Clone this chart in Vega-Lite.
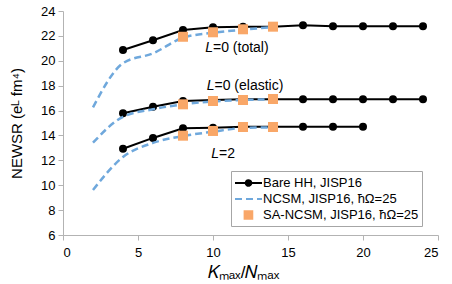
{
  "$schema": "https://vega.github.io/schema/vega-lite/v6.json",
  "width": 375,
  "height": 224,
  "autosize": "none",
  "padding": {"left": 63, "top": 11, "right": 14, "bottom": 49},
  "background": "white",
  "config": {
    "view": {"stroke": null},
    "font": "Liberation Sans",
    "axis": {"grid": false, "domainColor": "#b3b3b3", "tickColor": "#b3b3b3", "tickSize": 5, "labelFont": "Liberation Sans", "labelFontSize": 13, "labelColor": "black", "titleFont": "Liberation Sans", "titleColor": "black", "titleFontWeight": "normal"}
  },
  "datasets": {
    "pts": [
      {"series": "Bare HH, JISP16", "L": "total", "x": 4, "y": 20.87},
      {"series": "Bare HH, JISP16", "L": "total", "x": 6, "y": 21.65},
      {"series": "Bare HH, JISP16", "L": "total", "x": 8, "y": 22.47},
      {"series": "Bare HH, JISP16", "L": "total", "x": 10, "y": 22.69},
      {"series": "Bare HH, JISP16", "L": "total", "x": 12, "y": 22.74},
      {"series": "Bare HH, JISP16", "L": "total", "x": 14, "y": 22.74},
      {"series": "Bare HH, JISP16", "L": "total", "x": 16, "y": 22.85},
      {"series": "Bare HH, JISP16", "L": "total", "x": 18, "y": 22.77},
      {"series": "Bare HH, JISP16", "L": "total", "x": 20, "y": 22.77},
      {"series": "Bare HH, JISP16", "L": "total", "x": 22, "y": 22.77},
      {"series": "Bare HH, JISP16", "L": "total", "x": 24, "y": 22.77},
      {"series": "Bare HH, JISP16", "L": "elastic", "x": 4, "y": 15.78},
      {"series": "Bare HH, JISP16", "L": "elastic", "x": 6, "y": 16.31},
      {"series": "Bare HH, JISP16", "L": "elastic", "x": 8, "y": 16.77},
      {"series": "Bare HH, JISP16", "L": "elastic", "x": 10, "y": 16.85},
      {"series": "Bare HH, JISP16", "L": "elastic", "x": 12, "y": 16.9},
      {"series": "Bare HH, JISP16", "L": "elastic", "x": 14, "y": 16.9},
      {"series": "Bare HH, JISP16", "L": "elastic", "x": 16, "y": 16.9},
      {"series": "Bare HH, JISP16", "L": "elastic", "x": 18, "y": 16.9},
      {"series": "Bare HH, JISP16", "L": "elastic", "x": 20, "y": 16.9},
      {"series": "Bare HH, JISP16", "L": "elastic", "x": 22, "y": 16.9},
      {"series": "Bare HH, JISP16", "L": "elastic", "x": 24, "y": 16.9},
      {"series": "Bare HH, JISP16", "L": "L2", "x": 4, "y": 12.93},
      {"series": "Bare HH, JISP16", "L": "L2", "x": 6, "y": 13.8},
      {"series": "Bare HH, JISP16", "L": "L2", "x": 8, "y": 14.57},
      {"series": "Bare HH, JISP16", "L": "L2", "x": 10, "y": 14.62},
      {"series": "Bare HH, JISP16", "L": "L2", "x": 12, "y": 14.7},
      {"series": "Bare HH, JISP16", "L": "L2", "x": 14, "y": 14.7},
      {"series": "Bare HH, JISP16", "L": "L2", "x": 16, "y": 14.7},
      {"series": "Bare HH, JISP16", "L": "L2", "x": 18, "y": 14.7},
      {"series": "Bare HH, JISP16", "L": "L2", "x": 20, "y": 14.7},
      {"series": "NCSM, JISP16, ħΩ=25", "L": "total", "x": 2, "y": 16.26},
      {"series": "NCSM, JISP16, ħΩ=25", "L": "total", "x": 4, "y": 19.8},
      {"series": "NCSM, JISP16, ħΩ=25", "L": "total", "x": 6, "y": 20.6},
      {"series": "NCSM, JISP16, ħΩ=25", "L": "total", "x": 8, "y": 21.85},
      {"series": "NCSM, JISP16, ħΩ=25", "L": "total", "x": 10, "y": 22.25},
      {"series": "NCSM, JISP16, ħΩ=25", "L": "total", "x": 12, "y": 22.5},
      {"series": "NCSM, JISP16, ħΩ=25", "L": "total", "x": 14, "y": 22.7},
      {"series": "NCSM, JISP16, ħΩ=25", "L": "elastic", "x": 2, "y": 13.42},
      {"series": "NCSM, JISP16, ħΩ=25", "L": "elastic", "x": 4, "y": 15.5},
      {"series": "NCSM, JISP16, ħΩ=25", "L": "elastic", "x": 6, "y": 16.1},
      {"series": "NCSM, JISP16, ħΩ=25", "L": "elastic", "x": 8, "y": 16.5},
      {"series": "NCSM, JISP16, ħΩ=25", "L": "elastic", "x": 10, "y": 16.73},
      {"series": "NCSM, JISP16, ħΩ=25", "L": "elastic", "x": 12, "y": 16.85},
      {"series": "NCSM, JISP16, ħΩ=25", "L": "elastic", "x": 14, "y": 16.9},
      {"series": "NCSM, JISP16, ħΩ=25", "L": "L2", "x": 2, "y": 9.62},
      {"series": "NCSM, JISP16, ħΩ=25", "L": "L2", "x": 4, "y": 12.27},
      {"series": "NCSM, JISP16, ħΩ=25", "L": "L2", "x": 6, "y": 13.4},
      {"series": "NCSM, JISP16, ħΩ=25", "L": "L2", "x": 8, "y": 13.95},
      {"series": "NCSM, JISP16, ħΩ=25", "L": "L2", "x": 10, "y": 14.3},
      {"series": "NCSM, JISP16, ħΩ=25", "L": "L2", "x": 12, "y": 14.6},
      {"series": "NCSM, JISP16, ħΩ=25", "L": "L2", "x": 14, "y": 14.65},
      {"series": "SA-NCSM, JISP16, ħΩ=25", "L": "total", "x": 8, "y": 21.93},
      {"series": "SA-NCSM, JISP16, ħΩ=25", "L": "total", "x": 10, "y": 22.29},
      {"series": "SA-NCSM, JISP16, ħΩ=25", "L": "total", "x": 12, "y": 22.53},
      {"series": "SA-NCSM, JISP16, ħΩ=25", "L": "total", "x": 14, "y": 22.74},
      {"series": "SA-NCSM, JISP16, ħΩ=25", "L": "elastic", "x": 8, "y": 16.5},
      {"series": "SA-NCSM, JISP16, ħΩ=25", "L": "elastic", "x": 10, "y": 16.77},
      {"series": "SA-NCSM, JISP16, ħΩ=25", "L": "elastic", "x": 12, "y": 16.85},
      {"series": "SA-NCSM, JISP16, ħΩ=25", "L": "elastic", "x": 14, "y": 16.93},
      {"series": "SA-NCSM, JISP16, ħΩ=25", "L": "L2", "x": 8, "y": 13.98},
      {"series": "SA-NCSM, JISP16, ħΩ=25", "L": "L2", "x": 10, "y": 14.36},
      {"series": "SA-NCSM, JISP16, ħΩ=25", "L": "L2", "x": 12, "y": 14.68},
      {"series": "SA-NCSM, JISP16, ħΩ=25", "L": "L2", "x": 14, "y": 14.68}
    ],
    "labels": [
      {"x": 10.0, "y": 20.7, "rest": "=0 (total)"},
      {"x": 10.1, "y": 17.65, "rest": "=0 (elastic)"},
      {"x": 10.4, "y": 12.19, "rest": "=2"}
    ]
  },
  "data": {"name": "pts"},
  "encoding": {
    "x": {"field": "x", "type": "quantitative", "scale": {"domain": [0, 25], "nice": false}, "axis": {"values": [0, 5, 10, 15, 20, 25], "labelPadding": 6, "title": "𝐾ₘₐₓ/𝑁ₘₐₓ", "titleFontSize": 17, "titlePadding": 5, "titleX": 180, "titleAlign": "center"}},
    "y": {"field": "y", "type": "quantitative", "scale": {"domain": [6, 24], "nice": false, "zero": false}, "axis": {"values": [6, 8, 10, 12, 14, 16, 18, 20, 22, 24], "labelPadding": 3, "title": "NEWSR (eᴸ fm⁴)", "titleFontSize": 15, "titlePadding": 16}}
  },
  "layer": [
    {
      "transform": [{"filter": "datum.series == 'Bare HH, JISP16'"}],
      "mark": {"type": "line", "strokeWidth": 2},
      "encoding": {
        "detail": {"field": "L"},
        "color": {"field": "series", "type": "nominal", "scale": {"domain": ["Bare HH, JISP16", "NCSM, JISP16, ħΩ=25", "SA-NCSM, JISP16, ħΩ=25"], "range": ["#000000", "#6fa8dc", "#f9a768"]},
          "legend": {
            "orient": "none", "legendX": 168, "legendY": 160, "title": null,
            "strokeColor": "#a6a6a6", "fillColor": "white", "padding": 3,
            "labelFont": "Liberation Sans", "labelFontSize": 13, "labelColor": "black", "labelOffset": 11,
            "symbolSize": 256, "symbolStrokeWidth": 1.5, "rowPadding": 0,
            "encode": {
              "symbols": {"update": {
                "shape": {"signal": "datum.value == 'Bare HH, JISP16' ? 'M-1,0L2.375,0M0.34,0A0.35,0.35 0 1,0 1.04,0A0.35,0.35 0 1,0 0.34,0' : (datum.value == 'NCSM, JISP16, ħΩ=25' ? 'M-1,0L2.375,0' : 'M0.2,-0.48L1.16,-0.48L1.16,0.48L0.2,0.48Z')"},
                "fill": {"signal": "datum.value == 'NCSM, JISP16, ħΩ=25' ? 'transparent' : scale('color', datum.value)"},
                "stroke": {"signal": "datum.value == 'SA-NCSM, JISP16, ħΩ=25' ? 'transparent' : scale('color', datum.value)"},
                "strokeWidth": {"value": 2},
                "strokeDash": {"signal": "datum.value == 'NCSM, JISP16, ħΩ=25' ? [7, 4] : [1, 0]"},
                "opacity": {"value": 1}
              }}
            }
          }
        }
      }
    },
    {
      "transform": [{"filter": "datum.series == 'Bare HH, JISP16'"}],
      "mark": {"type": "point", "filled": true, "size": 64, "shape": "circle", "opacity": 1},
      "encoding": {"color": {"field": "series", "type": "nominal"}}
    },
    {
      "transform": [{"filter": "datum.series == 'NCSM, JISP16, ħΩ=25'"}],
      "mark": {"type": "line", "strokeWidth": 2.5, "strokeDash": [7, 4], "interpolate": "monotone"},
      "encoding": {"detail": {"field": "L"}, "color": {"field": "series", "type": "nominal"}}
    },
    {
      "transform": [{"filter": "datum.series == 'SA-NCSM, JISP16, ħΩ=25'"}],
      "mark": {"type": "point", "filled": true, "size": 100, "shape": "square", "opacity": 1},
      "encoding": {"color": {"field": "series", "type": "nominal"}}
    },
    {
      "data": {"name": "labels"},
      "mark": {"type": "text", "align": "right", "baseline": "alphabetic", "fontStyle": "italic", "fontSize": 14, "font": "Liberation Sans", "color": "black"},
      "encoding": {"text": {"value": "L"}}
    },
    {
      "data": {"name": "labels"},
      "mark": {"type": "text", "align": "left", "baseline": "alphabetic", "fontSize": 14, "font": "Liberation Sans", "color": "black"},
      "encoding": {"text": {"field": "rest"}}
    }
  ]
}
